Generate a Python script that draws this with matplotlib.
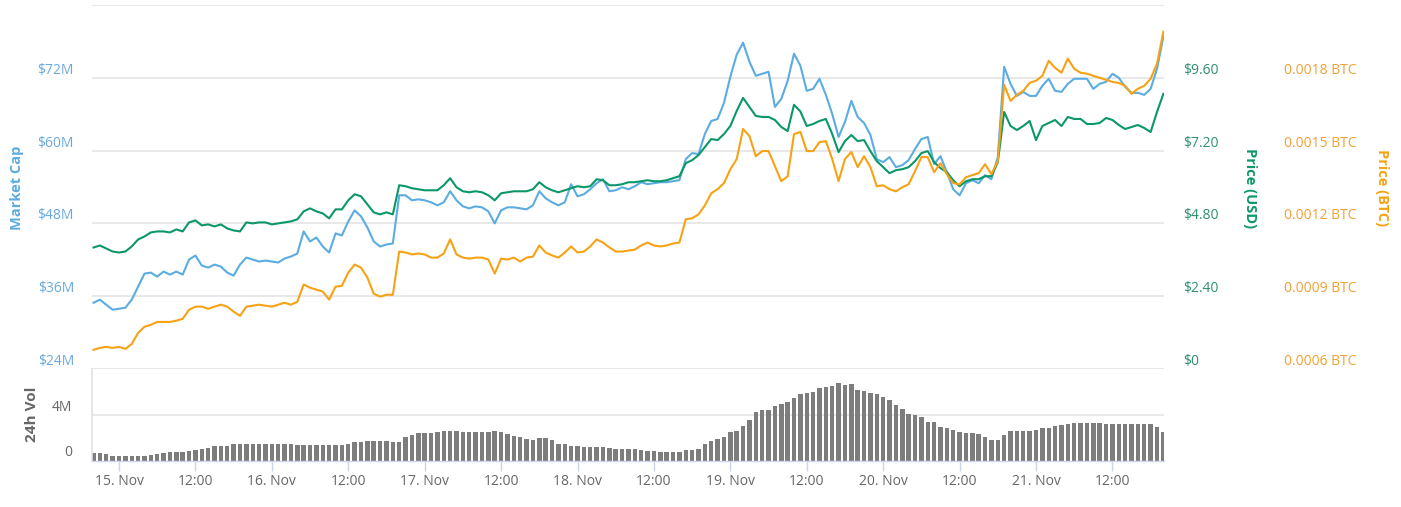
import numpy as np
import matplotlib
matplotlib.use('Agg')
import matplotlib.pyplot as plt
from matplotlib.transforms import ScaledTranslation

plt.rcParams['font.family'] = ['Open Sans', 'DejaVu Sans']

# ---------------- data (hourly, hours relative to 15 Nov 00:00) ----------------
hours = np.arange(-4, 165)

market_cap_m = [
    34.92, 35.42, 34.59, 33.77,
    33.93, 34.10, 35.42, 37.57, 39.72, 39.89, 39.23, 40.06, 39.56, 40.06, 39.56, 42.04,
    42.70, 41.05, 40.72, 41.21, 40.88, 39.89, 39.39, 41.21, 42.37, 42.04, 41.71, 41.88,
    41.71, 41.55, 42.21, 42.54, 43.03, 46.68, 45.02, 45.68, 44.19, 43.20, 46.35, 46.01,
    48.33, 50.15, 49.16, 47.34, 45.02, 44.19, 44.52, 44.69, 52.63, 52.63, 51.81, 51.97,
    51.81, 51.48, 50.98, 51.48, 53.30, 51.81, 50.81, 50.48, 50.81, 50.65, 49.99, 48.00,
    50.15, 50.65, 50.65, 50.48, 50.32, 50.98, 53.30, 52.14, 51.48, 50.98, 51.48, 54.46,
    52.47, 52.80, 53.63, 54.62, 55.28, 53.30, 53.46, 53.96, 53.63, 54.12, 54.79, 54.46,
    54.62, 54.79, 54.79, 54.95, 55.12, 58.59, 59.59, 59.42, 62.73, 64.88, 65.21, 67.86,
    72.17, 75.81, 77.79, 74.65, 72.33, 72.66, 72.99, 67.20, 68.52, 71.50, 75.97, 73.99,
    69.85, 70.18, 71.84, 69.19, 66.04, 62.24, 64.72, 68.19, 65.55, 64.55, 62.57, 58.59,
    58.10, 58.92, 57.27, 57.60, 58.43, 60.25, 61.90, 62.24, 57.77, 59.09, 56.44, 53.63,
    52.63, 54.62, 55.12, 54.62, 55.95, 55.28, 58.92, 73.82, 71.01, 69.02, 69.68, 69.02,
    69.02, 70.68, 71.84, 69.85, 69.68, 71.01, 71.84, 71.84, 71.84, 70.18, 71.01, 71.34,
    72.66, 72.00, 70.51, 69.52, 69.52, 69.19, 70.18, 73.49, 78.79,
]

price_usd = [
    4.005, 4.072, 3.972, 3.873,
    3.840, 3.873, 4.039, 4.270, 4.370, 4.502, 4.535, 4.535, 4.502, 4.601, 4.535, 4.833,
    4.899, 4.734, 4.767, 4.701, 4.767, 4.634, 4.568, 4.535, 4.833, 4.800, 4.833, 4.833,
    4.767, 4.800, 4.833, 4.866, 4.932, 5.197, 5.296, 5.197, 5.131, 4.965, 5.263, 5.263,
    5.561, 5.760, 5.694, 5.429, 5.164, 5.098, 5.164, 5.098, 6.058, 6.025, 5.959, 5.925,
    5.892, 5.892, 5.892, 6.058, 6.290, 5.992, 5.859, 5.826, 5.859, 5.826, 5.727, 5.561,
    5.793, 5.826, 5.859, 5.859, 5.859, 5.925, 6.157, 5.992, 5.892, 5.826, 5.892, 5.959,
    6.025, 5.992, 6.025, 6.256, 6.223, 6.058, 6.058, 6.091, 6.157, 6.157, 6.190, 6.223,
    6.190, 6.190, 6.223, 6.290, 6.356, 6.786, 6.885, 7.051, 7.316, 7.581, 7.547, 7.746,
    8.011, 8.507, 8.938, 8.640, 8.342, 8.309, 8.309, 8.210, 7.978, 7.845, 8.710, 8.490,
    8.011, 8.077, 8.176, 8.243, 7.746, 7.150, 7.514, 7.713, 7.514, 7.547, 7.183, 6.852,
    6.654, 6.455, 6.554, 6.587, 6.654, 6.852, 7.117, 7.183, 6.819, 6.621, 6.488, 6.223,
    6.025, 6.190, 6.256, 6.256, 6.356, 6.356, 6.819, 8.474, 8.011, 7.879, 8.011, 8.176,
    7.547, 8.011, 8.110, 8.210, 8.011, 8.309, 8.243, 8.243, 8.077, 8.077, 8.110, 8.276,
    8.210, 8.044, 7.912, 7.978, 8.044, 7.945, 7.812, 8.474, 9.070,
]

price_btc = [
    0.000679, 0.000687, 0.000691, 0.000687,
    0.000691, 0.000683, 0.000703, 0.000749, 0.000774, 0.000782, 0.000794, 0.000794, 0.000794, 0.000799, 0.000807, 0.000844,
    0.000857, 0.000857, 0.000848, 0.000857, 0.000865, 0.000857, 0.000836, 0.000819, 0.000857, 0.000861, 0.000865, 0.000861,
    0.000857, 0.000865, 0.000873, 0.000865, 0.000877, 0.000948, 0.000935, 0.000927, 0.000919, 0.000886, 0.000939, 0.000943,
    0.000997, 0.001030, 0.001018, 0.000977, 0.000910, 0.000898, 0.000906, 0.000906, 0.001084, 0.001080, 0.001072, 0.001076,
    0.001072, 0.001059, 0.001059, 0.001076, 0.001134, 0.001072, 0.001059, 0.001055, 0.001059, 0.001059, 0.001051, 0.000993,
    0.001055, 0.001051, 0.001059, 0.001043, 0.001059, 0.001063, 0.001109, 0.001080, 0.001068, 0.001059, 0.001080, 0.001105,
    0.001080, 0.001084, 0.001105, 0.001134, 0.001121, 0.001101, 0.001084, 0.001084, 0.001088, 0.001092, 0.001109, 0.001121,
    0.001109, 0.001105, 0.001109, 0.001117, 0.001121, 0.001217, 0.001221, 0.001237, 0.001274, 0.001324, 0.001341, 0.001366,
    0.001423, 0.001465, 0.001589, 0.001560, 0.001477, 0.001498, 0.001498, 0.001436, 0.001374, 0.001394, 0.001568, 0.001577,
    0.001498, 0.001498, 0.001535, 0.001539, 0.001465, 0.001374, 0.001465, 0.001494, 0.001432, 0.001477, 0.001432, 0.001353,
    0.001357, 0.001341, 0.001332, 0.001349, 0.001361, 0.001415, 0.001473, 0.001473, 0.001411, 0.001448, 0.001403, 0.001366,
    0.001361, 0.001390, 0.001399, 0.001407, 0.001444, 0.001403, 0.001457, 0.001771, 0.001705, 0.001730, 0.001746, 0.001779,
    0.001788, 0.001808, 0.001870, 0.001841, 0.001821, 0.001879, 0.001837, 0.001821, 0.001817, 0.001808, 0.001800, 0.001792,
    0.001783, 0.001779, 0.001767, 0.001734, 0.001755, 0.001767, 0.001796, 0.001858, 0.001990,
]

volume_m = [
    0.63, 0.63, 0.60, 0.40,
    0.36, 0.36, 0.36, 0.36, 0.40, 0.51, 0.55, 0.66, 0.72, 0.72, 0.74, 0.85,
    0.95, 1.00, 1.14, 1.29, 1.29, 1.32, 1.46, 1.50, 1.50, 1.50, 1.50, 1.50,
    1.50, 1.50, 1.50, 1.50, 1.42, 1.38, 1.38, 1.38, 1.41, 1.41, 1.41, 1.41,
    1.50, 1.62, 1.68, 1.74, 1.74, 1.74, 1.74, 1.60, 1.60, 2.05, 2.25, 2.40,
    2.40, 2.45, 2.49, 2.60, 2.63, 2.63, 2.55, 2.52, 2.52, 2.52, 2.52, 2.63,
    2.50, 2.35, 2.20, 2.05, 1.95, 1.86, 2.01, 2.01, 1.80, 1.50, 1.44, 1.29,
    1.29, 1.17, 1.17, 1.17, 1.17, 1.10, 1.05, 1.05, 1.05, 1.05, 0.92, 0.87,
    0.87, 0.78, 0.72, 0.72, 0.72, 0.90, 0.96, 1.00, 1.45, 1.70, 1.90, 2.10,
    2.50, 2.65, 3.10, 3.60, 4.30, 4.45, 4.50, 4.80, 5.05, 5.20, 5.55, 5.90,
    6.00, 6.05, 6.40, 6.50, 6.65, 6.85, 6.75, 6.80, 6.30, 6.20, 6.00, 5.90,
    5.60, 5.40, 4.90, 4.60, 4.10, 4.00, 3.90, 3.45, 3.40, 3.00, 2.85, 2.75,
    2.50, 2.45, 2.40, 2.35, 2.10, 1.80, 1.85, 2.25, 2.60, 2.65, 2.65, 2.60,
    2.75, 2.85, 2.90, 3.10, 3.15, 3.20, 3.30, 3.30, 3.30, 3.30, 3.30, 3.28,
    3.28, 3.28, 3.25, 3.25, 3.25, 3.25, 3.20, 3.00, 2.55,
]

x_tick_hours = [0, 12, 24, 36, 48, 60, 72, 84, 96, 108, 120, 132, 144, 156]
x_tick_labels = ['15. Nov', '12:00', '16. Nov', '12:00', '17. Nov', '12:00', '18. Nov',
                 '12:00', '19. Nov', '12:00', '20. Nov', '12:00', '21. Nov', '12:00']

mcap_ticks = [24, 36, 48, 60, 72]
mcap_labels = ['$24M', '$36M', '$48M', '$60M', '$72M']
usd_ticks = [0, 2.4, 4.8, 7.2, 9.6]
usd_labels = ['$0', '$2.40', '$4.80', '$7.20', '$9.60']
btc_ticks = [0.0006, 0.0009, 0.0012, 0.0015, 0.0018]
btc_labels = ['0.0006 BTC', '0.0009 BTC', '0.0012 BTC', '0.0015 BTC', '0.0018 BTC']
vol_ticks = [0, 4]
vol_labels = ['0', '4M']

# ---------------- styling ----------------
C_BLUE = '#5aace2'
C_GREEN = '#0b9768'
C_ORANGE = '#f7a214'
C_BLUE_TXT = '#6aa8dc'
C_GREEN_TXT = '#2f8f6f'
C_ORANGE_TXT = '#f0a035'
C_GRAY_TXT = '#666666'
GRID = '#e6e6e6'
LW = 1.5

W, H = 1401, 507
fig = plt.figure(figsize=(W / 100, H / 100), dpi=100)


def box(l, t, r, b):
    return [l / W, 1 - b / H, (r - l) / W, (b - t) / H]


XL, XR = -4.24, 164.1

ax = fig.add_axes(box(92, 5, 1164, 369))
ax.set_xlim(XL, XR)
ax.set_ylim(24, 84)
for yv in [24, 36, 48, 60, 72, 84]:
    ax.axhline(yv, color=GRID, lw=1.3, zorder=0)
for s in ax.spines.values():
    s.set_visible(False)
ax.set_xticks([])
ax.set_yticks([])
ax.plot(hours, market_cap_m, color=C_BLUE, lw=LW, solid_joinstyle='round')

ax2 = ax.twinx()
ax2.set_ylim(0, 12)
ax2.set_xlim(XL, XR)
for s in ax2.spines.values():
    s.set_visible(False)
ax2.set_yticks([])
ax2.plot(hours, price_usd, color=C_GREEN, lw=LW, solid_joinstyle='round')

ax3 = ax.twinx()
ax3.set_ylim(0.0006, 0.0021)
ax3.set_xlim(XL, XR)
for s in ax3.spines.values():
    s.set_visible(False)
ax3.set_yticks([])
ax3.plot(hours, price_btc, color=C_ORANGE, lw=LW, solid_joinstyle='round')


def px(dx, dy):
    return ScaledTranslation(dx / 100, dy / 100, fig.dpi_scale_trans)


for v, lab in zip(mcap_ticks, mcap_labels):
    ax.text(0, v, lab, transform=ax.get_yaxis_transform() + px(-18, 7.5),
            ha='right', va='center', fontsize=10, color=C_BLUE_TXT)
for v, lab in zip(usd_ticks, usd_labels):
    ax2.text(1, v, lab, transform=ax2.get_yaxis_transform() + px(19, 7.5),
             ha='left', va='center', fontsize=10, color=C_GREEN_TXT)
for v, lab in zip(btc_ticks, btc_labels):
    ax3.text(1, v, lab, transform=ax3.get_yaxis_transform() + px(120, 7.5),
             ha='left', va='center', fontsize=10, color=C_ORANGE_TXT)

# ---------------- volume panel ----------------
axv = fig.add_axes(box(92, 369, 1164, 460.5))
axv.set_xlim(XL, XR)
axv.set_ylim(0, 8.13)
axv.axhline(4, color=GRID, lw=1.3, zorder=0)
axv.bar(hours, volume_m, width=0.7, color='#7d7d7d', linewidth=0, zorder=2)
for k in ['top', 'right']:
    axv.spines[k].set_visible(False)
axv.spines['left'].set_color('#dfe1e8')
axv.spines['left'].set_linewidth(1.2)
axv.spines['bottom'].set_color('#ccd6eb')
axv.spines['bottom'].set_linewidth(1.0)
axv.set_yticks([])
axv.set_xticks(x_tick_hours)
axv.set_xticklabels(x_tick_labels)
axv.tick_params(axis='x', direction='out', length=7.2, width=1, color='#ccd6eb',
                pad=2.5, labelsize=10, labelcolor=C_GRAY_TXT)
for v, lab in zip(vol_ticks, vol_labels):
    axv.text(0, v, lab, transform=axv.get_yaxis_transform() + px(-20, 7.5),
             ha='right', va='center', fontsize=10, color=C_GRAY_TXT)

# ---------------- axis titles ----------------
fig.text(17 / W, 1 - 188 / H, 'Market Cap', rotation=90, ha='center', va='center',
         fontsize=10.5, fontweight='bold', color=C_BLUE)
fig.text(1250 / W, 1 - 188 / H, 'Price (USD)', rotation=270, ha='center', va='center',
         fontsize=10.5, fontweight='bold', color=C_GREEN)
fig.text(1382 / W, 1 - 188 / H, 'Price (BTC)', rotation=270, ha='center', va='center',
         fontsize=10.5, fontweight='bold', color=C_ORANGE)
fig.text(32 / W, 1 - 414 / H, '24h Vol', rotation=90, ha='center', va='center',
         fontsize=11, fontweight='bold', color=C_GRAY_TXT)

fig.savefig('out.png', dpi=100, facecolor='white')
